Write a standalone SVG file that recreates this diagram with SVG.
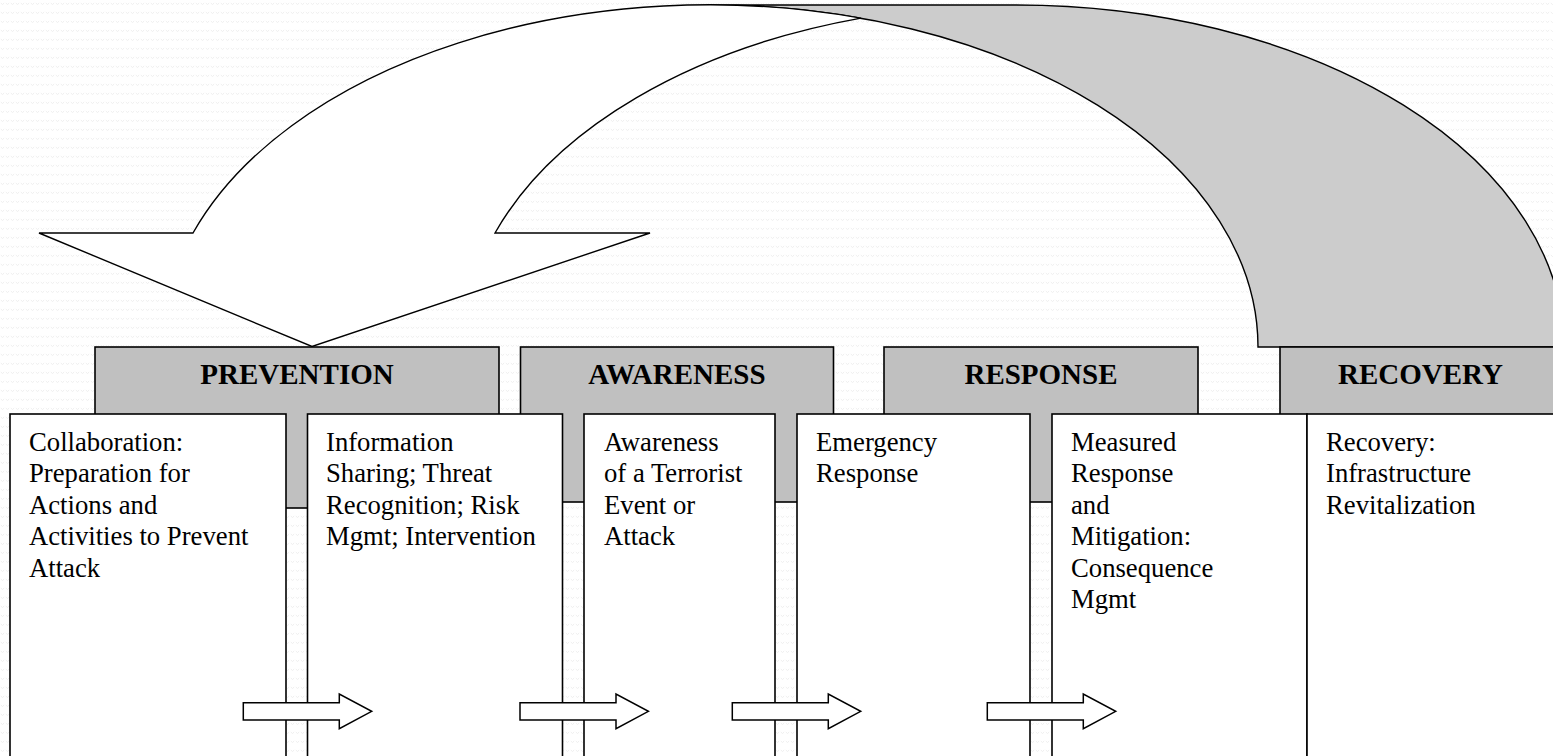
<svg xmlns="http://www.w3.org/2000/svg" xmlns:xlink="http://www.w3.org/1999/xlink" width="1553" height="756" viewBox="0 0 1553 756">
  <defs>
    <pattern id="bgdots" width="5" height="9" patternUnits="userSpaceOnUse">
      <rect width="5" height="9" fill="#ffffff"/>
      <path d="M0.8,3 Q2.5,6 4.2,3" fill="none" stroke="#ebebeb" stroke-width="0.8"/>
    </pattern>
    <path id="blockArrow" d="M0,8.7 L96,8.7 L96,0 L128.4,17.3 L96,34.7 L96,26 L0,26 Z"/>
  </defs>
  <style>
    .hdr { fill: #c0c0c0; stroke: #000; stroke-width: 1.6; }
    .box { fill: #ffffff; stroke: #000; stroke-width: 1.6; }
    .band { fill: #cccccc; stroke: #000; stroke-width: 1.4; }
    .front { fill: #ffffff; stroke: #000; stroke-width: 1.4; stroke-linejoin: miter; }
    .small { fill: #ffffff; stroke: #000; stroke-width: 1.5; }
    .htxt { font-family: "Liberation Serif", "Times New Roman", serif; font-weight: bold; font-size: 29px; fill: #000; text-anchor: middle; }
    .btxt { font-family: "Liberation Serif", "Times New Roman", serif; font-size: 26.7px; fill: #000; }
  </style>

  <rect x="0" y="0" width="1553" height="756" fill="url(#bgdots)"/>

  <g id="connectors">
    <path id="curved-arrow-back" class="band" d="M710,5 L1016,5 A548 342 0 0 1 1564,347 L1258,347 A548 342 0 0 0 710,5 Z"/>
    <path id="curved-arrow-front" class="front" d="M193,233 A548 342 0 0 1 861,18.1 A548 342 0 0 0 495,233 L650,233 L312,346.5 L39,233 Z"/>
  </g>

  <g id="header-prevention">
    <rect class="hdr" x="95" y="347" width="404" height="161"/>
    <text class="htxt" x="297" y="384">PREVENTION</text>
  </g>
  <g id="header-awareness">
    <rect class="hdr" x="520.5" y="347" width="313" height="155"/>
    <text class="htxt" x="677" y="384">AWARENESS</text>
  </g>
  <g id="header-response">
    <rect class="hdr" x="884" y="347" width="314" height="155"/>
    <text class="htxt" x="1041" y="384">RESPONSE</text>
  </g>
  <g id="header-recovery">
    <rect class="hdr" x="1280" y="347" width="290" height="155"/>
    <text class="htxt" x="1420.5" y="384">RECOVERY</text>
  </g>

  <g id="box-collaboration">
    <rect class="box" x="10" y="414" width="276" height="360"/>
    <text class="btxt" x="29" y="450.5">
      <tspan x="29" y="450.5">Collaboration:</tspan>
      <tspan x="29" y="482">Preparation for</tspan>
      <tspan x="29" y="513.5">Actions and</tspan>
      <tspan x="29" y="545">Activities to Prevent</tspan>
      <tspan x="29" y="576.5">Attack</tspan>
    </text>
  </g>
  <g id="box-information">
    <rect class="box" x="307.5" y="414" width="255" height="360"/>
    <text class="btxt" x="326" y="450.5">
      <tspan x="326" y="450.5">Information</tspan>
      <tspan x="326" y="482">Sharing; Threat</tspan>
      <tspan x="326" y="513.5">Recognition; Risk</tspan>
      <tspan x="326" y="545">Mgmt; Intervention</tspan>
    </text>
  </g>
  <g id="box-awareness">
    <rect class="box" x="584" y="414" width="191" height="360"/>
    <text class="btxt" x="604" y="450.5">
      <tspan x="604" y="450.5">Awareness</tspan>
      <tspan x="604" y="482">of a Terrorist</tspan>
      <tspan x="604" y="513.5">Event or</tspan>
      <tspan x="604" y="545">Attack</tspan>
    </text>
  </g>
  <g id="box-emergency">
    <rect class="box" x="797" y="414" width="233" height="360"/>
    <text class="btxt" x="816" y="450.5">
      <tspan x="816" y="450.5">Emergency</tspan>
      <tspan x="816" y="482">Response</tspan>
    </text>
  </g>
  <g id="box-measured">
    <rect class="box" x="1052" y="414" width="255" height="360"/>
    <text class="btxt" x="1071" y="450.5">
      <tspan x="1071" y="450.5">Measured</tspan>
      <tspan x="1071" y="482">Response</tspan>
      <tspan x="1071" y="513.5">and</tspan>
      <tspan x="1071" y="545">Mitigation:</tspan>
      <tspan x="1071" y="576.5">Consequence</tspan>
      <tspan x="1071" y="608">Mgmt</tspan>
    </text>
  </g>
  <g id="box-recovery">
    <rect class="box" x="1307" y="414" width="263" height="360"/>
    <text class="btxt" x="1326" y="450.5">
      <tspan x="1326" y="450.5">Recovery:</tspan>
      <tspan x="1326" y="482">Infrastructure</tspan>
      <tspan x="1326" y="513.5">Revitalization</tspan>
    </text>
  </g>

  <g id="flow-arrows">
    <use xlink:href="#blockArrow" href="#blockArrow" class="small" transform="translate(243.3,694)"/>
    <use xlink:href="#blockArrow" href="#blockArrow" class="small" transform="translate(520,694)"/>
    <use xlink:href="#blockArrow" href="#blockArrow" class="small" transform="translate(732.3,694)"/>
    <use xlink:href="#blockArrow" href="#blockArrow" class="small" transform="translate(987.3,694)"/>
  </g>
</svg>
